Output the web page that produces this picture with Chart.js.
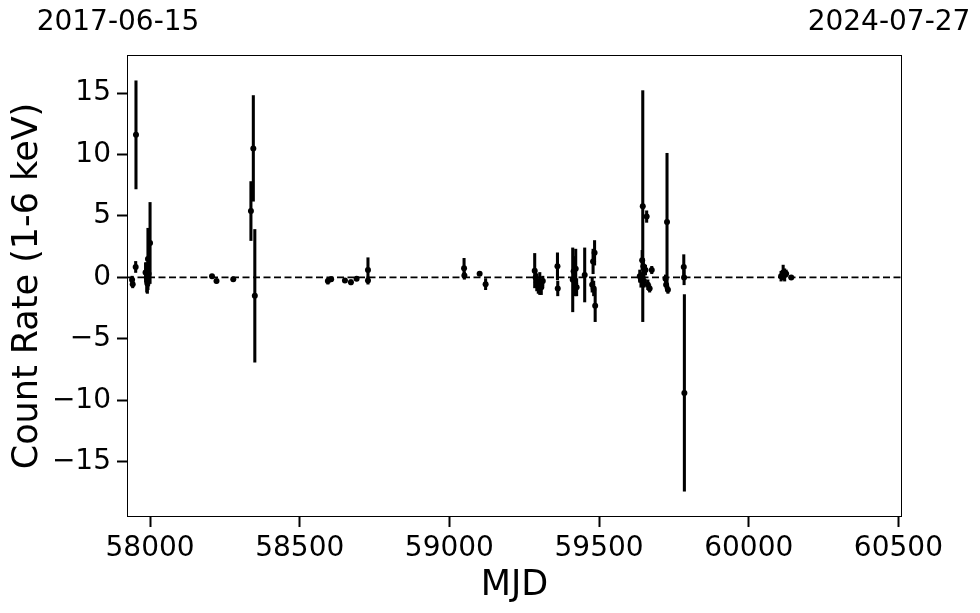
<!DOCTYPE html>
<html>
<head>
<meta charset="utf-8">
<script src="https://cdn.jsdelivr.net/npm/chart.js@4.4.1/dist/chart.umd.min.js"></script>
<style>
  html, body { margin: 0; padding: 0; background: #fff; }
  #wrap { width: 980px; height: 613px; }
</style>
</head>
<body>
<div id="wrap"><canvas id="lc"></canvas></div>
<script>
// light curve: MJD, count rate (1-6 keV), 1-sigma error
const mjd = [
  57940, 57942, 57952, 57953, 57985, 57989, 57991, 57993, 57995, 58000,
  58207, 58222, 58278, 58337, 58345, 58350,
  58594, 58605, 58651, 58671, 58690, 58728, 58728,
  59049, 59050, 59101, 59121,
  59285, 59288, 59292, 59297, 59302, 59307, 59312, 59361, 59362,
  59412, 59415, 59420, 59422, 59425, 59452, 59477, 59480, 59482, 59485, 59487,
  59636, 59640, 59644, 59646, 59648, 59650, 59655, 59659, 59663, 59669, 59676,
  59722, 59724, 59727, 59730, 59783, 59784, 59785,
  60108, 60115, 60120, 60125, 60142
];
const rate = [
  -0.2, -0.55, 0.85, 11.6, 0.4, 0.0, -0.5, 1.5, 0.3, 2.8,
  0.1, -0.3, -0.15, 5.4, 10.5, -1.5,
  -0.3, -0.15, -0.25, -0.4, -0.1, 0.6, -0.25,
  0.75, 0.15, 0.3, -0.55,
  0.55, 0.0, -0.4, -0.7, -0.5, -0.8, -0.3, 0.9, -0.9,
  -0.2, 0.5, -0.5, 0.7, -0.8, 0.2, -0.6, 1.3, -0.9, 2.0, -2.3,
  0.1, -0.2, 1.4, 5.8, 0.9, -0.3, 0.6, 4.95, -0.6, -0.9, 0.6,
  -0.1, -0.6, 4.5, -1.0, 0.85, 0.0, -9.4,
  0.1, 0.4, 0.2, 0.3, 0.0
];
const rateErr = [
  0.3, 0.3, 0.45, 4.4, 0.8, 1.2, 0.8, 2.5, 1.0, 3.3,
  0.15, 0.15, 0.15, 2.4, 4.3, 5.4,
  0.25, 0.2, 0.15, 0.2, 0.15, 1.0, 0.3,
  0.8, 0.3, 0.15, 0.45,
  1.4, 0.5, 0.7, 0.6, 0.9, 0.6, 0.4, 1.1, 0.6,
  2.6, 1.2, 1.0, 1.6, 0.7, 2.2, 0.6, 1.0, 0.6, 1.0, 1.3,
  0.5, 0.6, 0.8, 9.4, 0.6, 0.5, 0.4, 0.47, 0.4, 0.3, 0.3,
  0.3, 0.3, 5.6, 0.3, 1.0, 0.6, 8.0,
  0.4, 0.6, 0.5, 0.3, 0.1
];

const xTicks = [58000, 58500, 59000, 59500, 60000, 60500];
const yTicks = [-15, -10, -5, 0, 5, 10, 15];
const xRange = [57923, 60512];
const yRange = [-19.5, 18.1];
const dateLabels = ["2017-06-15", "2024-07-27"];

const FONT = "DejaVu Sans";

const points = mjd.map((m, i) => ({ x: m, y: rate[i] }));
const bars = mjd.map((m, i) => ({ x: m, y: [rate[i] - rateErr[i], rate[i] + rateErr[i]] }));

// frame + date labels above the axes
const decor = {
  id: "decor",
  afterDraw(chart) {
    const { ctx, chartArea: a } = chart;
    ctx.save();
    ctx.strokeStyle = "#000";
    ctx.lineWidth = 1;
    ctx.strokeRect(a.left + 0.5, a.top + 0.5, a.right - a.left - 1, a.bottom - a.top - 1);
    ctx.fillStyle = "#000";
    ctx.font = "28px " + FONT;
    ctx.textAlign = "center";
    ctx.textBaseline = "middle";
    ctx.fillText(dateLabels[0], a.left - 9, 23);
    ctx.fillText(dateLabels[1], a.right - 13, 23);
    ctx.restore();
  },
};

new Chart(document.getElementById("lc"), {
  data: {
    datasets: [
      {
        type: "line",
        data: [{ x: xRange[0], y: 0 }, { x: xRange[1], y: 0 }],
        borderColor: "#000",
        borderWidth: 1.6,
        borderDash: [7, 3.5],
        pointRadius: 0,
        order: 0,
      },
      {
        type: "scatter",
        data: points,
        backgroundColor: "#000",
        borderColor: "#000",
        pointRadius: 3,
        pointBorderWidth: 0,
        order: 1,
      },
      {
        type: "bar",
        data: bars,
        backgroundColor: "#000",
        barThickness: 2.4,
        grouped: false,
        order: 2,
      },
    ],
  },
  options: {
    responsive: true,
    maintainAspectRatio: false,
    animation: false,
    layout: { padding: { top: 55, right: 78, bottom: 2, left: 0 } },
    plugins: {
      legend: { display: false },
      tooltip: { enabled: false },
    },
    scales: {
      x: {
        type: "linear",
        min: xRange[0],
        max: xRange[1],
        offset: false,
        afterBuildTicks: (s) => { s.ticks = xTicks.map((v) => ({ value: v })); },
        afterFit: (s) => { s.height = 94; },
        grid: { offset: false, drawOnChartArea: false, tickLength: 10, tickWidth: 2, tickColor: "#000" },
        border: { display: false },
        ticks: {
          color: "#000",
          font: { family: FONT, size: 28 },
          padding: 5,
          maxRotation: 0,
          callback: (v) => String(v),
        },
        title: {
          display: true,
          text: "MJD",
          color: "#000",
          font: { family: FONT, size: 35 },
          padding: { top: 2, bottom: 4 },
        },
      },
      y: {
        type: "linear",
        min: yRange[0],
        max: yRange[1],
        afterBuildTicks: (s) => { s.ticks = yTicks.map((v) => ({ value: v })); },
        afterFit: (s) => { s.width = 127; },
        grid: { drawOnChartArea: false, tickLength: 10, tickWidth: 2, tickColor: "#000" },
        border: { display: false },
        ticks: {
          color: "#000",
          font: { family: FONT, size: 28 },
          padding: 6,
          callback: (v) => (v < 0 ? "\u2212" + Math.abs(v) : String(v)),
        },
        title: {
          display: true,
          text: "Count Rate (1-6 keV)",
          color: "#000",
          font: { family: FONT, size: 35 },
          padding: { top: 7, bottom: 4 },
        },
      },
    },
  },
  plugins: [decor],
});
</script>
</body>
</html>
